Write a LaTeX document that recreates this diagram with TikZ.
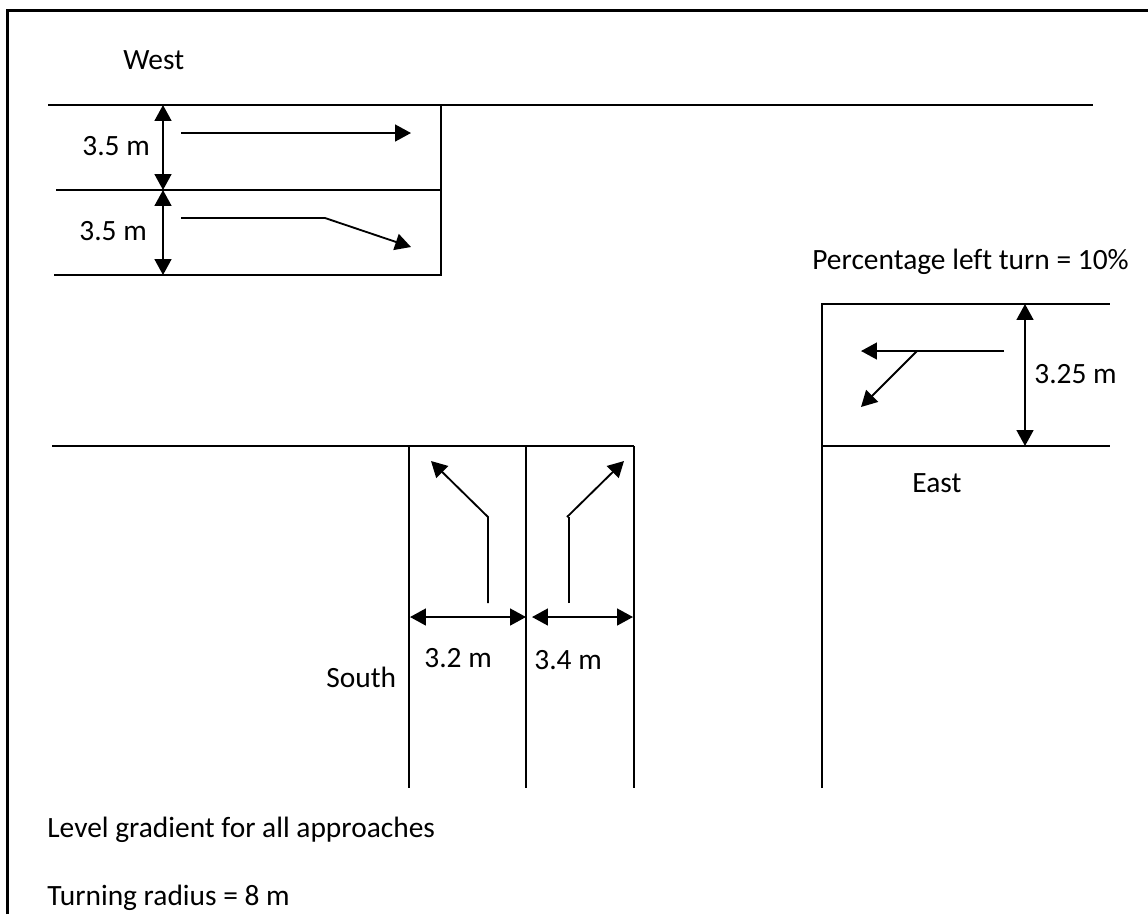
\documentclass[tikz,border=0pt]{standalone}
\usepackage{fontspec}
\setmainfont{Carlito}[Ligatures=NoCommon]
\usetikzlibrary{arrows.meta}

\tikzset{
  road/.style={line width=1.15pt},
  plainflow/.style={line width=1.05pt},
  flow/.style={line width=1.05pt,-{Triangle[length=9pt,width=9.5pt]}},
  dim/.style={line width=1.15pt,{Triangle[length=9pt,width=9.5pt]}-{Triangle[length=9pt,width=9.5pt]}},
  lbl/.style={anchor=base west,inner sep=0pt,font=\fontsize{16.75}{20}\selectfont}
}

\begin{document}
\begin{tikzpicture}[x=0.02cm,y=-0.02cm]

\useasboundingbox (0,0) rectangle (1148,914);
\draw[road] (7.5,914) -- (7.5,10.5) -- (1148,10.5);

% west approach
\draw[road] (48,105) -- (1093,105);
\draw[road] (56,190) -- (441,190);
\draw[road] (54,275) -- (441,275) -- (441,105);

% south approach
\draw[road] (52,446) -- (634,446);
\draw[road] (409,446) -- (409,788);
\draw[road] (526,446) -- (526,788);
\draw[road] (634,446) -- (634,788);

% east approach
\draw[road] (821.5,788) -- (821.5,304) -- (1110,304);
\draw[road] (821,446) -- (1110,446);

\coordinate (w1) at (163,105);
\coordinate (w2) at (163,190);
\coordinate (w3) at (163,275);
\coordinate (e1) at (1025,304);
\coordinate (e2) at (1025,446);
\coordinate (s1) at (410,617);
\coordinate (s2) at (526,617);
\coordinate (s3) at (532,617);
\coordinate (s4) at (633,617);

\draw[dim] (w1) -- (w2);
\draw[dim] (w2) -- (w3);
\draw[dim] (e1) -- (e2);
\draw[dim] (s1) -- (s2);
\draw[dim] (s3) -- (s4);

\coordinate (wa) at (181,133);
\coordinate (wb) at (411,133);
\coordinate (wc) at (181,218);
\coordinate (wd) at (325,218);
\coordinate (we) at (411,247);
\draw[flow] (wa) -- (wb);
\draw[flow] (wc) -- (wd) -- (we);

\coordinate (ea) at (1004,351);
\coordinate (eb) at (917,351);
\coordinate (ec) at (861,351);
\coordinate (ed) at (861,407);
\draw[flow] (ea) -- (ec);
\draw[flow] (eb) -- (ed);

\coordinate (sa) at (488,603);
\coordinate (sb) at (488,517);
\coordinate (sc) at (431,461);
\coordinate (sd) at (569,603);
\coordinate (se) at (569,517);
\coordinate (sg) at (567,517);
\coordinate (sf) at (624,461);
\draw[flow] (sa) -- (sb) -- (sc);
\draw[plainflow] (sd) -- (se);
\draw[flow] (sg) -- (sf);

\node[lbl] (west) at (123,69.5) {West};
\node[lbl] (wl1) at (82,155.5) {3.5 m};
\node[lbl] (wl2) at (79,240.5) {3.5 m};
\node[lbl] (pct) at (812,269) {Percentage left turn = 10\%};
\node[lbl] (el) at (1034,383) {3.25 m};
\node[lbl] (east) at (912,492) {East};
\node[lbl] (south) at (326,687.5) {South};
\node[lbl] (sl1) at (424,667.5) {3.2 m};
\node[lbl] (sl2) at (534,669.5) {3.4 m};
\node[lbl] (level) at (47,837.5) {Level gradient for all approaches};
\node[lbl] (turn) at (47,905.5) {Turning radius = 8 m};

\end{tikzpicture}
\end{document}
